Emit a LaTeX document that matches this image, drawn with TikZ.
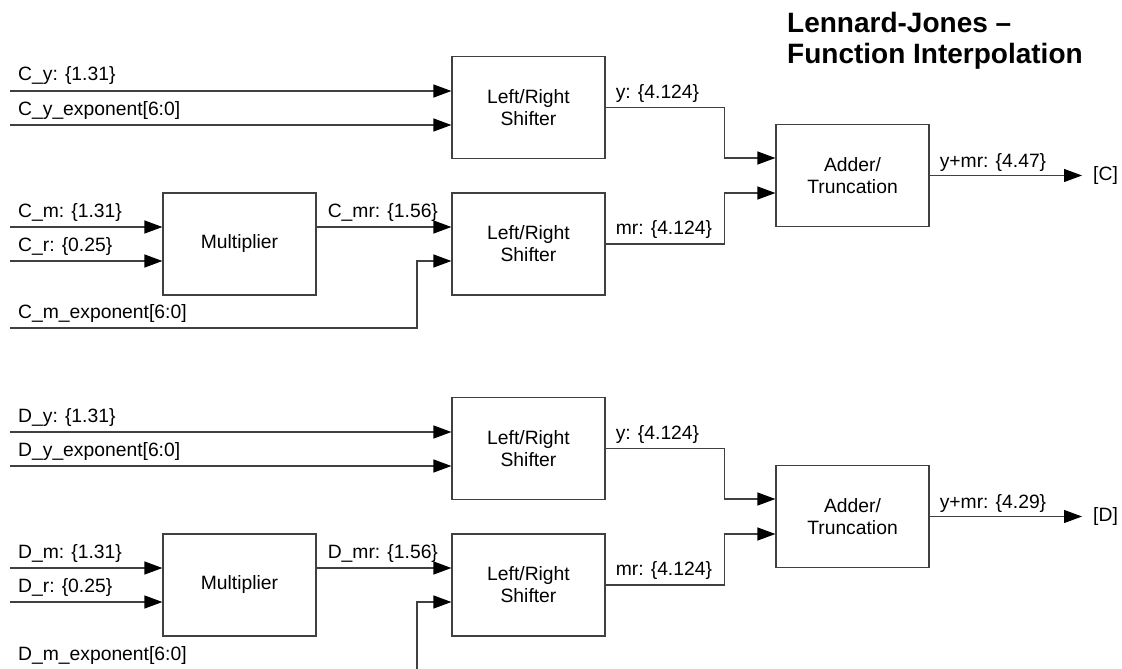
\documentclass[tikz,border=0pt]{standalone}
\usepackage{fontspec}
\setmainfont{Liberation Sans}
\usetikzlibrary{arrows.meta}
\begin{document}
\begin{tikzpicture}[x=1pt,y=-1pt,
  wire/.style={draw=black!75, line width=1.2pt},
  arr/.style={wire, -{Triangle[length=18pt,width=13pt,color=black]}},
  block/.style={draw=black!75, line width=1.2pt, minimum width=153pt,
    minimum height=102pt, inner sep=0pt, align=center,
    font=\fontsize{19.3}{22}\selectfont},
  lbl/.style={anchor=base west, inner sep=0pt, font=\fontsize{19.3}{23}\selectfont},
  port/.style={anchor=west, inner sep=0pt, font=\fontsize{19.3}{23}\selectfont},
  ttl/.style={anchor=north west, inner sep=0pt, align=left,
    font=\bfseries\fontsize{28}{31}\selectfont}]
\useasboundingbox (0,0) rectangle (1122,669);

% title
\node[ttl] (title) at (787,12) {Lennard-Jones --\\Function Interpolation};

% ---------- C path ----------
\node[block] (shC1) at (528.5,107.5) {Left/Right\\Shifter};
\node[block] (mulC) at (239.5,244) {Multiplier};
\node[block] (shC2) at (528.5,244) {Left/Right\\Shifter};
\node[block] (addC) at (852.5,175.5) {Adder/\\Truncation};

\coordinate (cyin)   at (10,91);
\coordinate (cyexin) at (10,125);
\coordinate (cmin)   at (10,227);
\coordinate (crin)   at (10,261);
\coordinate (cmexin) at (10,328);
\coordinate (cout)   at (1082,175.5);

\draw[arr] (cyin) -- (cyin -| shC1.west);
\draw[arr] (cyexin) -- (cyexin -| shC1.west);
\draw[arr] (cmin) -- (cmin -| mulC.west);
\draw[arr] (crin) -- (crin -| mulC.west);
\draw[arr] (mulC.east |- cmin) -- (cmin -| shC2.west);
\draw[arr] (cmexin) -- ++(407,0) |- (crin -| shC2.west);
\draw[arr] (shC1.east) -- ++(119,0) |- ([yshift=17.5pt]addC.west);
\draw[arr] (shC2.east) -- ++(119,0) |- ([yshift=-17.5pt]addC.west);
\draw[arr] (addC.east) -- (cout);

\node[lbl] at ([shift={(8,-10)}]cyin) {C\_y: \{1.31\}};
\node[lbl] at ([shift={(8,-10)}]cyexin) {C\_y\_exponent[6:0]};
\node[lbl] at ([shift={(8,-10)}]cmin) {C\_m: \{1.31\}};
\node[lbl] at ([shift={(8,-10)}]crin) {C\_r: \{0.25\}};
\node[lbl] at ([shift={(8,-10)}]cmexin) {C\_m\_exponent[6:0]};
\node[lbl] at ([shift={(11,-10)}]mulC.east |- cmin) {C\_mr: \{1.56\}};
\node[lbl] at ([shift={(10,-9)}]shC1.east) {y: \{4.124\}};
\node[lbl] at ([shift={(10,-10)}]shC2.east) {mr: \{4.124\}};
\node[lbl] at ([shift={(10,-8)}]addC.east) {y+mr: \{4.47\}};
\node[port] at ([xshift=11pt]cout) {[C]};

% ---------- D path ----------
\node[block] (shD1) at (528.5,448.5) {Left/Right\\Shifter};
\node[block] (mulD) at (239.5,585) {Multiplier};
\node[block] (shD2) at (528.5,585) {Left/Right\\Shifter};
\node[block] (addD) at (852.5,516.5) {Adder/\\Truncation};

\coordinate (dyin)   at (10,432);
\coordinate (dyexin) at (10,466);
\coordinate (dmin)   at (10,568);
\coordinate (drin)   at (10,602);
\coordinate (dmexlb) at (10,669);
\coordinate (dmexin) at (417,669);
\coordinate (dout)   at (1082,516.5);

\draw[arr] (dyin) -- (dyin -| shD1.west);
\draw[arr] (dyexin) -- (dyexin -| shD1.west);
\draw[arr] (dmin) -- (dmin -| mulD.west);
\draw[arr] (drin) -- (drin -| mulD.west);
\draw[arr] (mulD.east |- dmin) -- (dmin -| shD2.west);
\draw[arr] (dmexin) |- (drin -| shD2.west);
\draw[arr] (shD1.east) -- ++(119,0) |- ([yshift=17.5pt]addD.west);
\draw[arr] (shD2.east) -- ++(119,0) |- ([yshift=-17.5pt]addD.west);
\draw[arr] (addD.east) -- (dout);

\node[lbl] at ([shift={(8,-10)}]dyin) {D\_y: \{1.31\}};
\node[lbl] at ([shift={(8,-10)}]dyexin) {D\_y\_exponent[6:0]};
\node[lbl] at ([shift={(8,-10)}]dmin) {D\_m: \{1.31\}};
\node[lbl] at ([shift={(8,-10)}]drin) {D\_r: \{0.25\}};
\node[lbl] at ([shift={(8,-9)}]dmexlb) {D\_m\_exponent[6:0]};
\node[lbl] at ([shift={(11,-10)}]mulD.east |- dmin) {D\_mr: \{1.56\}};
\node[lbl] at ([shift={(10,-9)}]shD1.east) {y: \{4.124\}};
\node[lbl] at ([shift={(10,-10)}]shD2.east) {mr: \{4.124\}};
\node[lbl] at ([shift={(10,-8)}]addD.east) {y+mr: \{4.29\}};
\node[port] at ([xshift=11pt]dout) {[D]};
\end{tikzpicture}
\end{document}
